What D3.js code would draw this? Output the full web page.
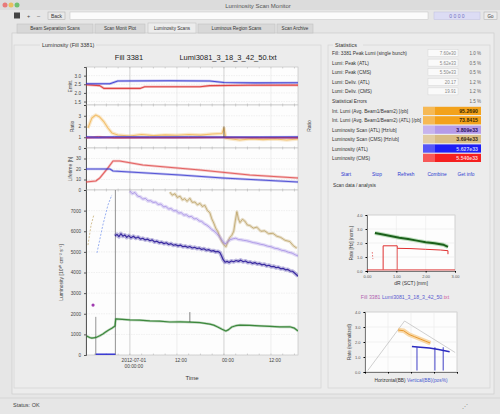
<!DOCTYPE html>
<html><head><meta charset="utf-8">
<script src="https://cdn.jsdelivr.net/npm/d3@7"></script>
<style>
body{margin:0;background:#e6e6e6;}
svg{display:block;font-family:"Liberation Sans",Arial,sans-serif;}
</style></head><body><svg id="c" width="500" height="414"></svg>
<script>
// ---------------- DATA ----------------
const tabLabels = ["Beam Separation Scans","Scan Monit Plot","Luminosity Scans","Luminous Region Scans","Scan Archive"];
const timeTicks = [0, 12, 24, 36];
const timeTickLabels = [["2012-07-01","00:00:00"],["12:00"],["00:00"],["12:00"]];
const emitTicks = [1.5, 2, 2.5, 3];
const ratioTicks = [0, 1, 2, 3];
const lifeTicks = [0, 10, 20, 30];
const lumiTicks = [0, 1000, 2000, 3000, 4000, 5000, 6000, 7000];

const emitBlue = [[-11.2,2.53],[-5.1,2.53],[-3.1,2.69],[10,2.7],[20.4,2.69],[24,2.6],[32,2.58],[42.9,2.59]];
const emitRed = [[-11.2,2.47],[-7.7,2.42],[-6.6,2.26],[2.6,2.26],[3.8,2.36],[17.9,2.36],[20.4,2.42],[30,2.44],[42.9,2.45]];

const ratioOrange = [[-10.7,1.86],[-9.7,2.79],[-8.7,3.07],[-7.7,2.88],[-6.6,2.42],[-5.6,1.86],[-4.6,1.4],[-3.1,1.21],[0,1.12],[3,1.25],[6,1.15],[9,1.22],[12,1.18],[15,1.25],[18,1.2],[21,1.3],[23.5,1.35],[24,1.86],[24.5,0.9],[28,0.74],[31,0.85],[34,0.78],[37,0.84],[40,0.74],[42.9,0.84]];
const ratioRed = [[-11.2,0.98],[-8,1.05],[-4,0.96],[5,0.98],[15,0.97],[24,0.99],[33,0.97],[42.9,0.98]];
const ratioBlue = [[-11.2,1.04],[-8,1.0],[-4,1.05],[5,1.03],[15,1.04],[24,1.02],[33,1.03],[42.9,1.04]];
const ratioPurple = [[-11.2,0.92],[-4,0.94],[10,0.93],[24,0.95],[42.9,0.93]];

const lifeRed = [[-11.2,7.6],[-8.7,8.6],[-7.7,11.4],[-5.6,21],[-4.3,27.6],[-2.6,27.6],[3.3,23.8],[17.9,19],[30.6,14.3],[42.9,11.4]];
const lifeBlue = [[-11.2,20],[-5.1,20],[-4.3,18.1],[12.8,14.3],[23.7,11.4],[42.9,7.6]];

const lumiTan = [[10.2,7900],[10.8,7750],[11.5,7820],[12.1,7640],[12.8,7700],[13.4,7520],[14.0,7580],[14.6,7450],[15.3,7600],[15.9,7400],[16.6,7420],[17.2,7280],[17.9,7350],[18.5,7200],[19.1,7260],[19.8,7000],[20.4,6900],[20.9,6600],[21.4,6400],[21.9,6150],[22.4,6000],[23.0,5700],[23.5,5480],[24.0,5350],[24.5,5250],[25.0,5500],[25.5,5700],[26.0,5800],[26.5,6000],[26.9,6500],[27.3,6950],[27.7,6600],[28.1,6420],[28.7,6580],[29.3,6500],[30.0,6300],[30.6,6280],[31.5,6150],[32.4,6200],[33.4,6000],[34.4,6020],[35.4,5880],[36.5,5900],[37.5,5760],[38.5,5700],[39.6,5560],[40.8,5500],[41.7,5300],[42.6,5180]];
const lumiLightPurple = [[0,7950],[0.6,7820],[1.3,7880],[2.0,7700],[2.6,7680],[3.3,7560],[4.0,7590],[4.6,7470],[5.3,7480],[5.9,7400],[6.6,7410],[7.2,7300],[7.9,7320],[8.6,7180],[9.2,7200],[9.9,7080],[10.5,7100],[11.2,6990],[11.8,7000],[12.5,6880],[13.1,6900],[13.8,6780],[14.4,6800],[15.1,6700],[15.7,6720],[16.4,6600],[17.0,6610],[17.7,6500],[18.3,6480],[19.0,6360],[19.6,6300],[20.3,6200],[20.9,6080],[21.6,6000],[22.2,5880],[22.8,5750],[23.5,5570],[24.0,5430],[24.5,5400],[25.1,5520],[25.7,5600],[26.4,5640],[27.0,5660],[27.7,5600],[28.3,5590],[29.0,5560],[29.8,5540],[30.6,5500],[31.5,5450],[32.4,5420],[33.3,5370],[34.2,5340],[35.1,5280],[36.0,5250],[36.9,5180],[37.8,5150],[38.7,5080],[39.6,5050],[40.5,4980],[41.4,4940],[42.3,4850],[42.9,4800]];
const lumiDarkBlue = [[-3.8,5770],[-3.3,5850],[-2.8,5740],[-2.3,5880],[-1.8,5760],[-1.3,5820],[-0.8,5700],[-0.3,5790],[0.3,5680],[0.9,5760],[1.5,5660],[2.1,5720],[2.7,5620],[3.3,5660],[3.9,5580],[4.5,5620],[5.1,5540],[5.7,5580],[6.3,5480],[6.9,5520],[7.5,5440],[8.1,5470],[8.7,5400],[9.3,5440],[9.9,5360],[10.5,5400],[11.1,5320],[11.7,5350],[12.3,5290],[12.9,5330],[13.5,5250],[14.1,5280],[14.7,5220],[15.3,5260],[15.9,5190],[16.5,5220],[17.1,5160],[17.7,5190],[18.3,5120],[18.9,5150],[19.5,5080],[20.1,5110],[20.7,5040],[21.3,5060],[21.9,5000],[22.5,5020],[23.0,4960],[23.4,4800],[23.8,4620],[24.3,4500],[24.8,4540],[25.3,4480],[25.9,4560],[26.5,4520],[27.1,4580],[27.7,4540],[28.3,4600],[28.9,4520],[29.5,4560],[30.1,4480],[30.7,4510],[31.3,4440],[31.9,4480],[32.5,4410],[33.1,4440],[33.7,4370],[34.3,4400],[34.9,4320],[35.5,4350],[36.1,4280],[36.7,4300],[37.3,4230],[37.9,4260],[38.5,4180],[39.1,4200],[39.7,4130],[40.3,4150],[40.9,4070],[41.5,4060],[42.1,3960],[42.6,3880],[42.9,3820]];
const lumiGreen = [[-11.0,920],[-10.3,850],[-9.7,820],[-9.0,840],[-8.4,870],[-7.7,930],[-6.9,1020],[-6.2,1110],[-5.4,1210],[-4.6,1300],[-3.8,1410],[-3.6,1750],[-2,1730],[0,1700],[2.5,1690],[5.1,1650],[7.6,1640],[10.2,1600],[12.8,1610],[15.3,1590],[17.9,1570],[20.4,1500],[21.4,1450],[22.4,1360],[23.5,1250],[24.5,1160],[25.2,1230],[26.0,1360],[27.0,1420],[28.1,1450],[30.6,1440],[33.2,1410],[35.7,1390],[38.3,1360],[40.8,1370],[42.0,1300],[42.9,1160]];
const lumiEarlyPurple = [[-8.4,4950],[-6.9,6300],[-5.6,7270],[-4.6,7760]];
const lumiEarlyTan = [[-10.7,5330],[-9.9,6300],[-9.2,6790]];
const scanMarkers = [-8.7, -3.7];

const statLabels = ["Fill: 3381 Peak Lumi (single bunch)","Lumi: Peak (ATL)","Lumi: Peak (CMS)","Lumi: Deliv. (ATL)","Lumi: Deliv. (CMS)","Statistical Errors"];
const statInputs = ["7.60e30","5.62e33","5.50e33","20.17","19.91",""];
const statUnits = ["1.0 %","0.5 %","0.5 %","1.2 %","1.2 %","1.5 %"];
const colorLabels = ["Int. Lumi (Avg. Beam1/Beam2) [/pb]","Int. Lumi (Avg. Beam1/Beam2) (ATL) [/pb]","Luminosity Scan (ATL) [Hz/ub]","Luminosity Scan (CMS) [Hz/ub]","Luminosity (ATL)","Luminosity (CMS)"];
const colorValues = ["95.2690","73.8415","3.809e33","3.694e33","5.627e33","5.540e33"];
const colorFills = ["#f3a21c","#f3a21c","#b59be9","#d9bd86","#1e1ef5","#f52020"];
const colorText = ["#3a2a00","#3a2a00","#2a1060","#3a2a10","#c8d0ff","#ffd0d0"];
const buttonLabels = ["Start","Stop","Refresh","Combine","Get info"];

const scanATicks = [0, 1, 2, 3];
const scanAYTicks = [0, 1, 2, 3, 4];
const scanAGreen = [[0.27,2.72],[0.5,2.62],[0.8,2.5],[1.1,2.38],[1.4,2.28],[1.7,2.17],[2.0,2.06],[2.3,1.98],[2.6,1.88],[2.76,1.72]];
const scanARed = [[0.55,0.1],[0.55,1.8],[1.03,1.8],[1.03,1.62],[1.5,1.6],[2.0,1.55],[2.5,1.5],[2.76,1.45],[2.76,1.2]];
const scanARedVert = [[1.03,0.1],[1.03,1.62]];
const scanARedBase = [[0,0.08],[3,0.08]];
const scanARedMarks = [[0.18,1.35],[0.2,0.85]];

const scanBTicks = [0, 2.5, 5, 7.5, 10];
const scanBYTicks = [0, 1, 2, 3, 4];
const scanBGray = [[0.3,0.1],[4.3,3.4],[9.8,1.3]];
const scanBOrange = [[3.6,2.8],[4.2,2.75],[4.8,2.5],[5.4,2.35],[6.0,2.2],[6.6,2.05],[7.1,1.93]];
const scanBBlue = [[5.1,1.7],[6.0,1.65],[7.0,1.6],[8.0,1.5],[9.2,1.35]];
const scanBBlueVerts = [5.65, 7.6, 8.5];

// ---------------- DRAW ----------------
const svg = d3.select("#c");
const F = 5.5;

// window chrome
svg.append("rect").attr("x",0).attr("y",0).attr("width",500).attr("height",414).attr("fill","#e6e6e6");
svg.append("rect").attr("x",0).attr("y",0).attr("width",500).attr("height",10).attr("fill","#dcdcdc");
[["#e87a7a",5],["#e8c060",11],["#70c070",17]].forEach(c=>svg.append("circle").attr("cx",c[1]).attr("cy",5).attr("r",2.5).attr("fill",c[0]));
svg.append("text").attr("x",258).attr("y",7.5).attr("text-anchor","middle").attr("font-size",6).attr("fill","#555").text("Luminosity Scan Monitor");
// toolbar
svg.append("rect").attr("x",14).attr("y",12.5).attr("width",6).attr("height",6).attr("fill","#444");
svg.append("text").attr("x",27).attr("y",18).attr("font-size",F).attr("fill","#444").text("+");
svg.append("text").attr("x",37).attr("y",18).attr("font-size",F).attr("fill","#444").text("–");
svg.append("rect").attr("x",48).attr("y",12).attr("width",17).attr("height",7.5).attr("fill","#e9e9e9").attr("stroke","#aaa").attr("stroke-width",0.5);
svg.append("text").attr("x",56.5).attr("y",17.8).attr("text-anchor","middle").attr("font-size",5).attr("fill","#333").text("Back");
svg.append("rect").attr("x",70).attr("y",12).attr("width",358).attr("height",7.5).attr("fill","#fbfbfb").attr("stroke","#c4c4c4").attr("stroke-width",0.5);
svg.append("rect").attr("x",434).attr("y",12).attr("width",46).attr("height",7.5).attr("fill","#dcdcf4").attr("stroke","#c0c0e0").attr("stroke-width",0.5);
svg.append("text").attr("x",457).attr("y",17.8).attr("text-anchor","middle").attr("font-size",5).attr("fill","#7070c0").text("0 0 0 0");
svg.append("rect").attr("x",484).attr("y",12).attr("width",13).attr("height",7.5).attr("fill","#ececec").attr("stroke","#aaa").attr("stroke-width",0.5);
svg.append("text").attr("x",490.5).attr("y",17.8).attr("text-anchor","middle").attr("font-size",4.5).attr("fill","#333").text("Go");
// tabs
const tabX = [17, 95, 148, 198, 277];
const tabW = [76, 50, 48, 77, 36];
svg.append("rect").attr("x",12).attr("y",33).attr("width",482).attr("height",361).attr("fill","#ececec").attr("stroke","#c8c8c8").attr("stroke-width",0.6);
tabLabels.forEach((t,i)=>{
  const sel = i===2;
  svg.append("rect").attr("x",tabX[i]).attr("y",sel?23:24).attr("width",tabW[i]).attr("height",sel?10:9)
    .attr("fill",sel?"#ececec":"#d8d8d8").attr("stroke","#bdbdbd").attr("stroke-width",0.5);
  svg.append("text").attr("x",tabX[i]+tabW[i]/2).attr("y",30).attr("text-anchor","middle").attr("font-size",4.6).attr("fill","#333").text(t);
});
// group boxes
svg.append("rect").attr("x",14).attr("y",45).attr("width",307).attr("height",343).attr("fill","none").attr("stroke","#cfcfcf").attr("stroke-width",0.6);
svg.append("rect").attr("x",40).attr("y",41).attr("width",56).attr("height",7).attr("fill","#ececec");
svg.append("text").attr("x",42).attr("y",46.5).attr("font-size",F).attr("fill","#333").text("Luminosity (Fill 3381)");
svg.append("rect").attr("x",328).attr("y",45).attr("width",162).attr("height",343).attr("fill","none").attr("stroke","#cfcfcf").attr("stroke-width",0.6);
svg.append("rect").attr("x",333).attr("y",41).attr("width",30).attr("height",7).attr("fill","#ececec");
svg.append("text").attr("x",335).attr("y",46.5).attr("font-size",F).attr("fill","#333").text("Statistics");
// status bar
svg.append("line").attr("x1",0).attr("x2",500).attr("y1",398).attr("y2",398).attr("stroke","#cfcfcf").attr("stroke-width",0.6);
svg.append("text").attr("x",13).attr("y",407).attr("font-size",F).attr("fill","#444").text("Status: OK");
svg.append("text").attr("x",462).attr("y",408).attr("font-size",F).attr("fill","#888").text("⋰");

// ---------- main plot ----------
const X0=86, X1=298;
const x = d3.scaleLinear().domain([-11.2,42.9]).range([X0,X1]);
const main = svg.append("g");
svg.append("text").attr("x",129).attr("y",60).attr("text-anchor","middle").attr("font-size",7.5).attr("fill","#222").text("Fill 3381");
svg.append("text").attr("x",228).attr("y",60).attr("text-anchor","middle").attr("font-size",7.5).attr("fill","#222").text("Lumi3081_3_18_3_42_50.txt");

let clipId=0;
function panel(top,bottom,domain,ticks,fmt,label,labelX){
  const y = d3.scaleLinear().domain(domain).range([bottom,top]);
  const g = main.append("g");
  g.append("rect").attr("x",X0).attr("y",top).attr("width",X1-X0).attr("height",bottom-top).attr("fill","#fdfdfd").attr("stroke","#bdbdbd").attr("stroke-width",0.6);
  g.selectAll(".hg").data(ticks).join("line").attr("x1",X0).attr("x2",X1)
    .attr("y1",d=>y(d)).attr("y2",d=>y(d)).attr("stroke","#e2e2e2").attr("stroke-width",0.5).attr("stroke-dasharray","1.5,1");
  g.selectAll(".vg").data(timeTicks).join("line").attr("y1",top).attr("y2",bottom)
    .attr("x1",d=>x(d)).attr("x2",d=>x(d)).attr("stroke",d=>d%24===0?"#b5b5b5":"#e4e4e4").attr("stroke-width",0.6);
  const minor = d3.range(-9,43,3);
  g.selectAll(".mt").data(minor).join("line").attr("x1",d=>x(d)).attr("x2",d=>x(d)).attr("y1",top).attr("y2",top+1.5).attr("stroke","#999").attr("stroke-width",0.4);
  g.selectAll(".mb").data(minor).join("line").attr("x1",d=>x(d)).attr("x2",d=>x(d)).attr("y1",bottom).attr("y2",bottom-1.5).attr("stroke","#999").attr("stroke-width",0.4);
  const ax = g.append("g").attr("transform",`translate(${X0},0)`).call(d3.axisLeft(y).tickValues(ticks).tickSize(2).tickFormat(fmt));
  ax.select(".domain").attr("stroke","#333").attr("stroke-width",0.8);
  ax.selectAll("text").attr("font-size",4.6).attr("fill","#444").attr("font-family","Liberation Sans, Arial");
  ax.selectAll("line").attr("stroke","#555");
  g.append("text").attr("transform",`translate(${labelX},${(top+bottom)/2}) rotate(-90)`).attr("text-anchor","middle").attr("font-size",5).attr("fill","#444").text(label);
  const id="clip"+(clipId++);
  svg.append("clipPath").attr("id",id).append("rect").attr("x",X0).attr("y",top).attr("width",X1-X0).attr("height",bottom-top);
  const cg = g.append("g").attr("clip-path",`url(#${id})`);
  return {y,cg};
}
function drawLine(p,data,color,w,op,dash,band){
  const ln = d3.line().x(d=>x(d[0])).y(d=>p.y(d[1]));
  if(band){
    p.cg.append("path").datum(data).attr("d",ln).attr("fill","none").attr("stroke",color).attr("stroke-width",band).attr("opacity",0.3).attr("stroke-linejoin","round");
  }
  p.cg.append("path").datum(data).attr("d",ln).attr("fill","none").attr("stroke",color).attr("stroke-width",w).attr("opacity",op)
    .attr("stroke-dasharray",dash||null).attr("stroke-linejoin","round");
}

const p1 = panel(67,105,[1.3,3.5],emitTicks,d3.format(".1f"),"Emitt.",72);
drawLine(p1,emitRed,"#dd3030",1.1,0.85,null,2.5);
drawLine(p1,emitBlue,"#3535d0",1.1,0.85,null,2.5);

const p2 = panel(105,148,[0,4],ratioTicks,d3.format("d"),"Ratio",74);
svg.append("text").attr("transform",`translate(311,126) rotate(-90)`).attr("text-anchor","middle").attr("font-size",5).attr("fill","#444").text("Ratio");
drawLine(p2,ratioOrange,"#f2b85a",1.1,0.85,null,3.5);
drawLine(p2,ratioPurple,"#8a3aa0",0.9,0.85,null,2);
drawLine(p2,ratioRed,"#d83030",1.0,0.85,null,2);
drawLine(p2,ratioBlue,"#3a3ad8",1.0,0.85,null,2);
p2.cg.append("line").attr("x1",x(24)).attr("x2",x(24)).attr("y1",p2.y(2.0)).attr("y2",p2.y(1.0)).attr("stroke","#333").attr("stroke-width",0.6);

const p3 = panel(148,190,[0,40],lifeTicks,d3.format("d"),"Lifetime [h]",72);
drawLine(p3,lifeRed,"#e04848",1.1,0.8,null,2.5);
drawLine(p3,lifeBlue,"#3a3ad0",1.1,0.8,null,2.5);

const p4 = panel(190,355,[0,8000],lumiTicks,d3.format("d"),"Luminosity [10³⁰ cm⁻² s⁻¹]",63);
scanMarkers.forEach((m,i)=>{
  p4.cg.append("line").attr("x1",x(m)).attr("x2",x(m)).attr("y1",p4.y(i===0?1850:8000)).attr("y2",p4.y(0)).attr("stroke","#666").attr("stroke-width",0.7);
});
p4.cg.append("line").attr("x1",x(scanMarkers[0])).attr("x2",x(scanMarkers[1])).attr("y1",p4.y(0)-0.8).attr("y2",p4.y(0)-0.8).attr("stroke","#2a2ad0").attr("stroke-width",1.4);
drawLine(p4,lumiEarlyTan,"#c9b27a",1,0.8,"2,1.5");
drawLine(p4,lumiEarlyPurple,"#8fa8f0",1,0.9,"2,1.5");
drawLine(p4,lumiTan,"#b89c5a",0.9,0.8,null,3);
drawLine(p4,lumiLightPurple,"#a089e4",0.9,0.85,null,3.5);
drawLine(p4,lumiDarkBlue,"#2c1c9a",1.2,0.9,null,4);
drawLine(p4,lumiGreen,"#2f7f2f",1.2,0.9,null,2.5);
p4.cg.append("circle").attr("cx",x(-9.4)).attr("cy",p4.y(2420)).attr("r",1.6).attr("fill","#a03ab0");
p4.cg.append("line").attr("x1",x(15.3)).attr("x2",x(15.3)).attr("y1",p4.y(2080)).attr("y2",p4.y(1600)).attr("stroke","#333").attr("stroke-width",0.6);
const xl = main.append("g");
xl.selectAll("text").data(timeTicks).join("text").attr("x",d=>x(d)+4).attr("y",362).attr("text-anchor","middle").attr("font-size",4.8).attr("fill","#444")
  .each(function(d,i){ const t=d3.select(this); timeTickLabels[i].forEach((s,j)=>t.append("tspan").attr("x",x(d)+4).attr("dy",j?5.5:0).text(s)); });
main.append("text").attr("x",192).attr("y",380).attr("text-anchor","middle").attr("font-size",6).attr("fill","#333").text("Time");

// ---------- right panel ----------
const R = svg.append("g");
statLabels.forEach((t,i)=>{
  const yy = 55 + i*9.6;
  R.append("text").attr("x",332).attr("y",yy).attr("font-size",4.8).attr("fill","#333").text(t);
  if(statInputs[i]!==""){
    R.append("rect").attr("x",428).attr("y",yy-5.5).attr("width",30).attr("height",7).attr("fill","#fafafa").attr("stroke","#cfcfcf").attr("stroke-width",0.4);
    R.append("text").attr("x",456).attr("y",yy).attr("text-anchor","end").attr("font-size",4.5).attr("fill","#888").text(statInputs[i]);
  }
  R.append("text").attr("x",481).attr("y",yy).attr("text-anchor","end").attr("font-size",4.5).attr("fill","#666").text(statUnits[i]);
});
colorLabels.forEach((t,i)=>{
  const yy = 113 + i*9.4;
  R.append("text").attr("x",332).attr("y",yy).attr("font-size",4.8).attr("fill","#333").text(t);
  R.append("rect").attr("x",423).attr("y",yy-6.2).attr("width",58).attr("height",8.2).attr("fill",colorFills[i]);
  R.append("rect").attr("x",423).attr("y",yy-6.2).attr("width",12).attr("height",8.2).attr("fill","#fff").attr("opacity",0.25);
  R.append("text").attr("x",478).attr("y",yy).attr("text-anchor","end").attr("font-size",5.2).attr("font-weight","bold").attr("fill",colorText[i]).text(colorValues[i]);
});
const btnX = [346, 377, 406, 437, 466];
buttonLabels.forEach((t,i)=>{
  R.append("text").attr("x",btnX[i]).attr("y",176).attr("text-anchor","middle").attr("font-size",4.8).attr("fill","#2a3ad0").text(t);
});
R.append("text").attr("x",333).attr("y",187).attr("font-size",4.8).attr("fill","#333").text("Scan data / analysis");

// small chart A
const ax0=367, ax1=455, ay0=215, ay1=271;
const xa = d3.scaleLinear().domain([0,3]).range([ax0,ax1]);
const ya = d3.scaleLinear().domain([0,4]).range([ay1,ay0]);
R.append("rect").attr("x",ax0).attr("y",ay0).attr("width",ax1-ax0).attr("height",ay1-ay0).attr("fill","#fdfdfd").attr("stroke","#aaa").attr("stroke-width",0.5);
R.selectAll(".gax").data(scanATicks).join("line").attr("x1",d=>xa(d)).attr("x2",d=>xa(d)).attr("y1",ay0).attr("y2",ay1).attr("stroke","#e6e6e6").attr("stroke-width",0.5);
R.selectAll(".gay").data(scanAYTicks).join("line").attr("y1",d=>ya(d)).attr("y2",d=>ya(d)).attr("x1",ax0).attr("x2",ax1).attr("stroke","#e6e6e6").attr("stroke-width",0.5);
const aAxL = R.append("g").attr("transform",`translate(${ax0},0)`).call(d3.axisLeft(ya).tickValues(scanAYTicks).tickSize(1.5).tickFormat(d3.format(".1f")));
const aAxB = R.append("g").attr("transform",`translate(0,${ay1})`).call(d3.axisBottom(xa).tickValues(scanATicks).tickSize(1.5).tickFormat(d3.format(".2f")));
[aAxL,aAxB].forEach(a=>{a.selectAll("text").attr("font-size",4).attr("fill","#555");a.select(".domain").attr("stroke","#333").attr("stroke-width",0.6);});
R.append("text").attr("transform",`translate(353,${(ay0+ay1)/2}) rotate(-90)`).attr("text-anchor","middle").attr("font-size",4.5).attr("fill","#444").text("Rate [Hz] (norm.)");
R.append("text").attr("x",411).attr("y",285).attr("text-anchor","middle").attr("font-size",5).attr("fill","#333").text("dR (SCT) [mm]");
const la = d3.line().x(d=>xa(d[0])).y(d=>ya(d[1]));
R.append("path").datum(scanARedBase).attr("d",la).attr("stroke","#e03030").attr("stroke-width",0.9).attr("fill","none");
R.append("path").datum(scanARed).attr("d",la).attr("stroke","#e03030").attr("stroke-width",1).attr("fill","none");
R.append("path").datum(scanARedVert).attr("d",la).attr("stroke","#e03030").attr("stroke-width",0.8).attr("fill","none");
R.append("path").datum(scanARedMarks).attr("d",la).attr("stroke","#e05050").attr("stroke-width",0.8).attr("stroke-dasharray","1.5,1.5").attr("fill","none");
R.append("path").datum(scanAGreen).attr("d",la).attr("stroke","#7fc07f").attr("stroke-width",4).attr("opacity",0.5).attr("fill","none");
R.append("path").datum(scanAGreen).attr("d",la).attr("stroke","#1a601a").attr("stroke-width",2).attr("fill","none");

// small chart B
const bx0=365, bx1=457, by0=312, by1=372;
const xb = d3.scaleLinear().domain([0,10]).range([bx0,bx1]);
const yb = d3.scaleLinear().domain([0,4]).range([by1,by0]);
const tb = R.append("text").attr("x",405).attr("y",299).attr("text-anchor","middle").attr("font-size",5.2);
tb.append("tspan").attr("fill","#b060b0").text("Fill 3381 ");
tb.append("tspan").attr("fill","#5a5ad0").text("Lumi3081_3_18_3_42_50");
tb.append("tspan").attr("fill","#d05a9a").text(".txt");
R.append("rect").attr("x",bx0).attr("y",by0).attr("width",bx1-bx0).attr("height",by1-by0).attr("fill","#fdfdfd").attr("stroke","#aaa").attr("stroke-width",0.5);
R.selectAll(".gbx").data(scanBTicks).join("line").attr("x1",d=>xb(d)).attr("x2",d=>xb(d)).attr("y1",by0).attr("y2",by1).attr("stroke","#e6e6e6").attr("stroke-width",0.5);
R.selectAll(".gby").data(scanBYTicks).join("line").attr("y1",d=>yb(d)).attr("y2",d=>yb(d)).attr("x1",bx0).attr("x2",bx1).attr("stroke","#e6e6e6").attr("stroke-width",0.5);
const bAxL = R.append("g").attr("transform",`translate(${bx0},0)`).call(d3.axisLeft(yb).tickValues(scanBYTicks).tickSize(1.5).tickFormat(d3.format(".1f")));
const bAxB = R.append("g").attr("transform",`translate(0,${by1})`).call(d3.axisBottom(xb).tickValues(scanBTicks).tickSize(1.5).tickFormat(()=>""));
[bAxL,bAxB].forEach(a=>{a.selectAll("text").attr("font-size",4).attr("fill","#555");a.select(".domain").attr("stroke","#333").attr("stroke-width",0.6);});
R.append("text").attr("transform",`translate(351,${(by0+by1)/2}) rotate(-90)`).attr("text-anchor","middle").attr("font-size",4.5).attr("fill","#444").text("Rate (normalized)");
const xlb = R.append("text").attr("x",411).attr("y",382).attr("text-anchor","middle").attr("font-size",4.8);
xlb.append("tspan").attr("fill","#333").text("Horizontal(BB)  ");
xlb.append("tspan").attr("fill","#4a5ad0").text("Vertical(BB)(pos%)");
const lb = d3.line().x(d=>xb(d[0])).y(d=>yb(d[1]));
R.append("path").datum(scanBGray).attr("d",lb).attr("stroke","#b0b0b0").attr("stroke-width",0.6).attr("fill","none");
R.append("path").datum(scanBOrange).attr("d",lb).attr("stroke","#f5c070").attr("stroke-width",4.5).attr("opacity",0.6).attr("fill","none");
R.append("path").datum(scanBOrange).attr("d",lb).attr("stroke","#e89a30").attr("stroke-width",1).attr("fill","none");
scanBBlueVerts.forEach(v=>R.append("line").attr("x1",xb(v)).attr("x2",xb(v)).attr("y1",yb(0.1)).attr("y2",yb(1.65)).attr("stroke","#2a2ac0").attr("stroke-width",0.9));
R.append("path").datum(scanBBlue).attr("d",lb).attr("stroke","#2a2ac0").attr("stroke-width",1.6).attr("fill","none");
</script></body></html>
